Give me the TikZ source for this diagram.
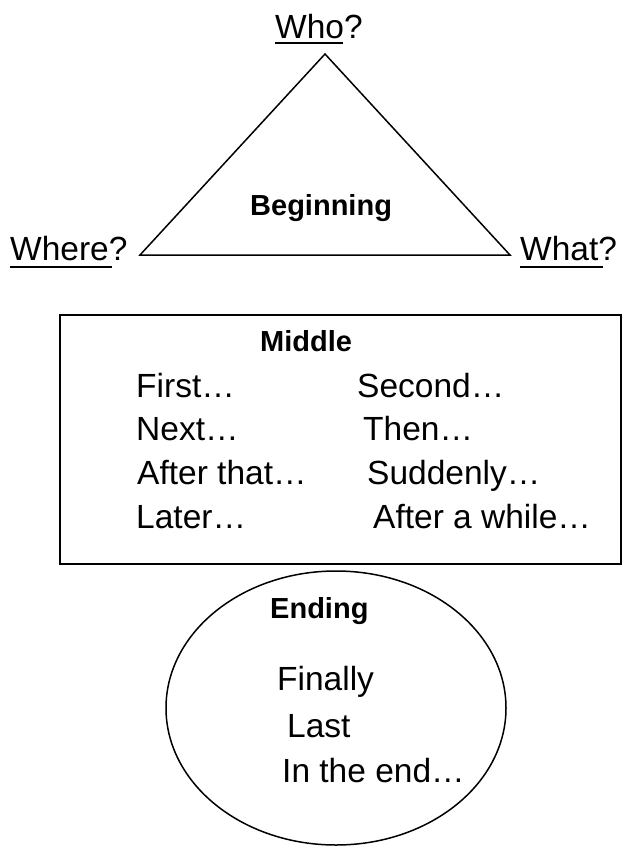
\documentclass[tikz,border=0pt]{standalone}
\usepackage{fontspec}
\setmainfont{Liberation Sans}
\begin{document}
\begin{tikzpicture}[x=1pt,y=-1pt,
  lbl/.style={anchor=base west,inner sep=0pt,font=\fontsize{33.5}{38}\selectfont},
  bld/.style={anchor=base west,inner sep=0pt,font=\fontsize{29}{34}\selectfont\bfseries},
  outline/.style={draw=black,line width=1.5pt},
  uline/.style={draw=black,line width=2.5pt}]
\useasboundingbox (0,0) rectangle (622,846);
% Beginning triangle
\coordinate (apex) at (325,54);
\coordinate (bl) at (140,255);
\coordinate (br) at (510,255);
\draw[outline,line join=miter] (apex) -- (bl) -- (br) -- cycle;
\node[lbl] (who) at (275,38) {Who?};
\node[lbl] (where) at (10,260) {Where?};
\node[lbl] (what) at (520,260) {What?};
\coordinate (whoA) at (275,43); \coordinate (whoB) at (343,43);
\coordinate (whereA) at (10,267); \coordinate (whereB) at (112,267);
\coordinate (whatA) at (520,267); \coordinate (whatB) at (603,267);
\draw[uline] (whoA) -- (whoB);
\draw[uline] (whereA) -- (whereB);
\draw[uline] (whatA) -- (whatB);
\node[bld] (beg) at (250,215) {Beginning};
% Middle box
\coordinate (boxTL) at (60,315);
\coordinate (boxBR) at (621,564);
\draw[outline] (boxTL) rectangle (boxBR);
\node[bld] (mid) at (260,351) {Middle};
\node[lbl] (first) at (136,397) {First…};
\node[lbl] (second) at (357,397) {Second…};
\node[lbl] (next) at (136,440) {Next…};
\node[lbl] (then) at (363,440) {Then…};
\node[lbl] (after) at (137,484) {After that…};
\node[lbl] (sud) at (367,484) {Suddenly…};
\node[lbl] (later) at (136,528) {Later…};
\node[lbl] (while) at (373,528) {After a while…};
% Ending ellipse
\coordinate (ec) at (336,708);
\draw[outline] (ec) ellipse [x radius=170, y radius=137];
\node[bld] (end) at (270,618) {Ending};
\node[lbl] (fin) at (277,690) {Finally};
\node[lbl] (last) at (287,737) {Last};
\node[lbl] (inend) at (282,782) {In the end…};
\end{tikzpicture}
\end{document}
